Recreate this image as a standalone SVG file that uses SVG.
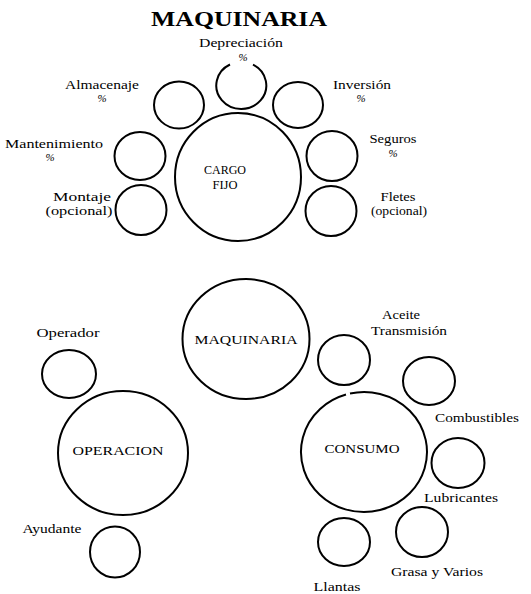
<svg xmlns="http://www.w3.org/2000/svg" width="531" height="594" viewBox="0 0 531 594">
<style>
.c{fill:none;stroke:#000;stroke-width:2}
.t{font-family:"Liberation Serif","Times New Roman",serif;font-size:12px;fill:#000;text-anchor:middle}
.u{font-family:"Liberation Serif","Times New Roman",serif;font-size:13px;fill:#000;text-anchor:middle}
.p{font-family:"Liberation Serif","Times New Roman",serif;font-size:11px;font-style:italic;fill:#000;text-anchor:middle}
.h{font-family:"Liberation Serif","Times New Roman",serif;font-size:22px;font-weight:bold;fill:#000;text-anchor:middle}
</style>
<rect width="531" height="594" fill="#fff"/>
<text class="h" x="239" y="26" textLength="176" lengthAdjust="spacingAndGlyphs">MAQUINARIA</text>
<g id="cargo-fijo">
<ellipse class="c" cx="238" cy="177" rx="63" ry="64"/>
<text class="u" x="225" y="174" textLength="42" lengthAdjust="spacingAndGlyphs">CARGO</text>
<text class="u" x="225" y="189" textLength="25" lengthAdjust="spacingAndGlyphs">FIJO</text>
</g>
<g id="depreciacion">
<path class="c" d="M 253 64.7 A 25 23.5 0 1 1 230 64.5"/>
<text class="t" x="241" y="47" textLength="84" lengthAdjust="spacingAndGlyphs">Depreciación</text>
<text class="p" x="243" y="61">%</text>
</g>
<g id="almacenaje">
<ellipse class="c" cx="179" cy="105" rx="25" ry="23.5"/>
<text class="t" x="102" y="89" textLength="74" lengthAdjust="spacingAndGlyphs">Almacenaje</text>
<text class="p" x="102" y="102">%</text>
</g>
<g id="inversion">
<ellipse class="c" cx="298" cy="105" rx="25" ry="23"/>
<text class="t" x="362" y="89" textLength="58" lengthAdjust="spacingAndGlyphs">Inversión</text>
<text class="p" x="361" y="102">%</text>
</g>
<g id="mantenimiento">
<ellipse class="c" cx="140" cy="156" rx="25.5" ry="24"/>
<text class="t" x="54" y="148" textLength="98" lengthAdjust="spacingAndGlyphs">Mantenimiento</text>
<text class="p" x="50" y="161">%</text>
</g>
<g id="seguros">
<ellipse class="c" cx="332" cy="156" rx="25.5" ry="25"/>
<text class="t" x="393" y="143" textLength="47" lengthAdjust="spacingAndGlyphs">Seguros</text>
<text class="p" x="393" y="157">%</text>
</g>
<g id="montaje">
<ellipse class="c" cx="141" cy="210" rx="25.5" ry="25"/>
<text class="t" x="82" y="201" textLength="58" lengthAdjust="spacingAndGlyphs">Montaje</text>
<text class="t" x="79" y="215" textLength="67" lengthAdjust="spacingAndGlyphs">(opcional)</text>
</g>
<g id="fletes">
<ellipse class="c" cx="331" cy="211" rx="25.5" ry="25"/>
<text class="t" x="398" y="201" textLength="35" lengthAdjust="spacingAndGlyphs">Fletes</text>
<text class="t" x="399" y="215" textLength="56" lengthAdjust="spacingAndGlyphs">(opcional)</text>
</g>
<g id="maquinaria">
<ellipse class="c" cx="246" cy="339" rx="63.5" ry="60"/>
<text class="u" x="246" y="344" textLength="103" lengthAdjust="spacingAndGlyphs">MAQUINARIA</text>
</g>
<g id="operacion">
<ellipse class="c" cx="123" cy="453" rx="65" ry="62"/>
<text class="u" x="118" y="455" textLength="91" lengthAdjust="spacingAndGlyphs">OPERACION</text>
</g>
<g id="operador">
<ellipse class="c" cx="69" cy="374" rx="27" ry="24"/>
<text class="t" x="68" y="337" textLength="63" lengthAdjust="spacingAndGlyphs">Operador</text>
</g>
<g id="ayudante">
<ellipse class="c" cx="115" cy="552" rx="25" ry="25.5"/>
<text class="t" x="52" y="533" textLength="59" lengthAdjust="spacingAndGlyphs">Ayudante</text>
</g>
<g id="consumo">
<path class="c" d="M 350 393.5 A 63 60 0 1 1 346 394.5"/>
<text class="u" x="362" y="453" textLength="75" lengthAdjust="spacingAndGlyphs">CONSUMO</text>
</g>
<g id="aceite">
<ellipse class="c" cx="344" cy="360" rx="26" ry="25"/>
<text class="t" x="401" y="319" textLength="38" lengthAdjust="spacingAndGlyphs">Aceite</text>
<text class="t" x="409" y="335" textLength="76" lengthAdjust="spacingAndGlyphs">Transmisión</text>
</g>
<g id="combustibles">
<ellipse class="c" cx="429" cy="381" rx="26" ry="24"/>
<text class="t" x="477" y="422" textLength="84" lengthAdjust="spacingAndGlyphs">Combustibles</text>
</g>
<g id="lubricantes">
<ellipse class="c" cx="458" cy="463" rx="26.5" ry="25"/>
<text class="t" x="461" y="502" textLength="74" lengthAdjust="spacingAndGlyphs">Lubricantes</text>
</g>
<g id="grasa">
<ellipse class="c" cx="422" cy="532" rx="26" ry="25"/>
<text class="t" x="437" y="576" textLength="92" lengthAdjust="spacingAndGlyphs">Grasa y Varios</text>
</g>
<g id="llantas">
<ellipse class="c" cx="344" cy="542" rx="26" ry="24"/>
<text class="t" x="337" y="591" textLength="47" lengthAdjust="spacingAndGlyphs">Llantas</text>
</g>
<g id="connectors"></g>
</svg>
